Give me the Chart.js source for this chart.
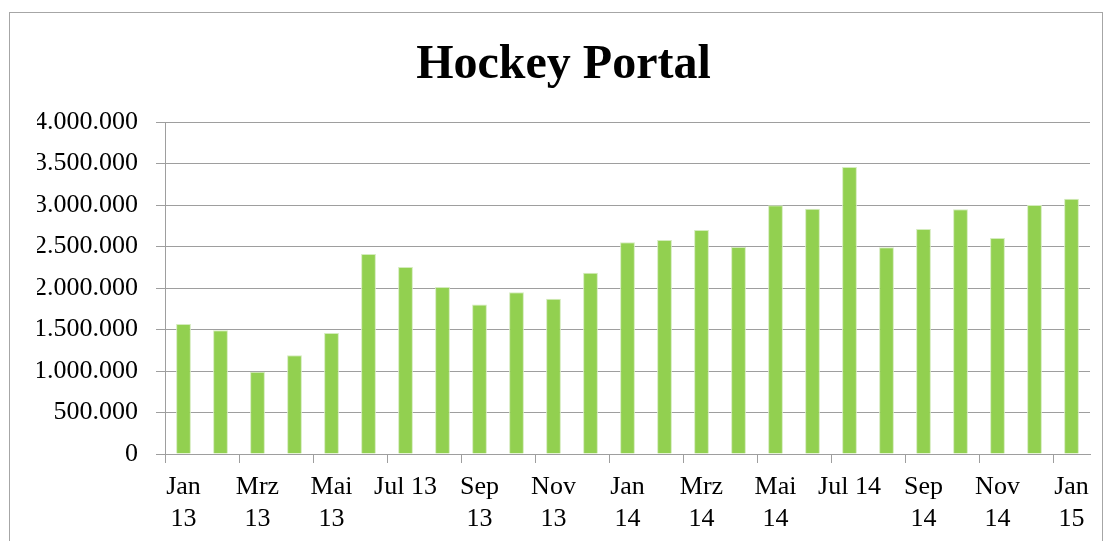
<!DOCTYPE html>
<html>
<head>
<meta charset="utf-8">
<script src="https://cdn.jsdelivr.net/npm/chart.js@4.4.1/dist/chart.umd.min.js"></script>
<style>
  html, body { margin: 0; padding: 0; background: #fff; width: 1105px; height: 541px; overflow: hidden; }
  #frame { position: absolute; left: 9px; top: 12px; width: 1094px; height: 560px; border: 1px solid #a6a6a6; box-sizing: border-box; }
  #wrap { position: absolute; left: 22px; top: 0; width: 1083px; height: 541px; }
</style>
</head>
<body>
<div id="frame"></div>
<div id="wrap"><canvas id="c" width="1083" height="541"></canvas></div>
<script>
const categories = ["Jan 13","Feb 13","Mrz 13","Apr 13","Mai 13","Jun 13","Jul 13","Aug 13","Sep 13","Okt 13","Nov 13","Dez 13",
                    "Jan 14","Feb 14","Mrz 14","Apr 14","Mai 14","Jun 14","Jul 14","Aug 14","Sep 14","Okt 14","Nov 14","Dez 14","Jan 15"];
const tickLabels = [["Jan","13"],"",["Mrz","13"],"",["Mai","13"],"","Jul 13","",["Sep","13"],"",["Nov","13"],"",
                    ["Jan","14"],"",["Mrz","14"],"",["Mai","14"],"","Jul 14","",["Sep","14"],"",["Nov","14"],"",["Jan","15"]];
const visits = [1565000,1490000,990000,1190000,1458000,2410000,2253000,2012000,1800000,1948000,1871000,2184000,
                2550000,2578000,2699000,2494000,2996000,2956000,3458000,2490000,2711000,2948000,2602000,3000000,3076000];
const yTicks = [0,500000,1000000,1500000,2000000,2500000,3000000,3500000,4000000];

const fontFam = "'Liberation Serif', 'Times New Roman', serif";
const gridGray = '#9e9e9e';

new Chart(document.getElementById('c'), {
  type: 'bar',
  data: {
    labels: categories,
    datasets: [{
      data: visits,
      backgroundColor: '#92d050',
      borderColor: '#d4ecbd',
      borderWidth: 1,
      barPercentage: 0.4,
      categoryPercentage: 1.0
    }]
  },
  options: {
    responsive: false,
    animation: false,
    devicePixelRatio: 1,
    layout: { padding: { left: 15, right: 15, top: 0, bottom: 0 } },
    plugins: {
      legend: { display: false },
      tooltip: { enabled: false },
      title: {
        display: true,
        text: 'Hockey Portal',
        color: '#000',
        font: { family: fontFam, size: 48, weight: 'bold', lineHeight: 1.2 },
        padding: { top: 36.7, bottom: 27.7 }
      }
    },
    scales: {
      x: {
        offset: true,
        grid: {
          offset: true,
          drawOnChartArea: false,
          drawTicks: true,
          tickLength: 9,
          color: (ctx) => (ctx.index % 2 === 0 ? gridGray : 'rgba(0,0,0,0)'),
          lineWidth: 1
        },
        border: { display: true, color: gridGray, width: 1 },
        ticks: {
          autoSkip: false,
          maxRotation: 0,
          minRotation: 0,
          color: '#000',
          padding: 9,
          font: { family: fontFam, size: 26, lineHeight: 1.2 },
          callback: (v, i) => tickLabels[i]
        },
        afterFit: (s) => { s.height = 87; }
      },
      y: {
        min: 0,
        max: 4000000,
        afterBuildTicks: (s) => { s.ticks = yTicks.map(v => ({ value: v })); },
        grid: {
          drawTicks: true,
          tickLength: 9,
          color: gridGray,
          lineWidth: 1
        },
        border: { display: true, color: gridGray, width: 1 },
        ticks: {
          color: '#000',
          padding: 18,
          font: { family: fontFam, size: 26 },
          callback: (v) => v === 0 ? '0' : v.toLocaleString('de-DE')
        },
        afterFit: (s) => { s.width = 128; }
      }
    }
  }
});
</script>
</body>
</html>
